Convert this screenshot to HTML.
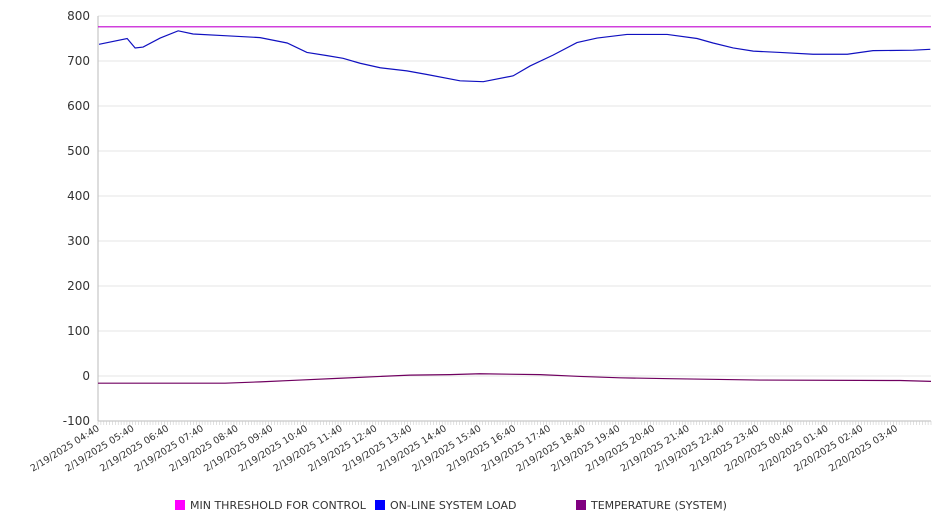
<!DOCTYPE html>
<html><head><meta charset="utf-8"><style>
body{margin:0;background:#fff;font-family:"Liberation Sans","DejaVu Sans",sans-serif}
svg text{font-family:"DejaVu Sans","Liberation Sans",sans-serif;fill:#333}
</style></head><body>
<svg id="chart" width="946" height="526" xmlns="http://www.w3.org/2000/svg"></svg>
<script>
const yTicks=[-100,0,100,200,300,400,500,600,700,800];
const xTickLabels=["2/19/2025 04:40","2/19/2025 05:40","2/19/2025 06:40","2/19/2025 07:40","2/19/2025 08:40","2/19/2025 09:40","2/19/2025 10:40","2/19/2025 11:40","2/19/2025 12:40","2/19/2025 13:40","2/19/2025 14:40","2/19/2025 15:40","2/19/2025 16:40","2/19/2025 17:40","2/19/2025 18:40","2/19/2025 19:40","2/19/2025 20:40","2/19/2025 21:40","2/19/2025 22:40","2/19/2025 23:40","2/20/2025 00:40","2/20/2025 01:40","2/20/2025 02:40","2/20/2025 03:40"];
const thresholdValue=776;
const loadHours=[0.03,0.84,1.07,1.3,1.79,2.31,2.74,3.72,4.67,5.45,6.02,6.6,7.06,7.55,8.13,8.9,9.48,10.43,11.1,11.96,12.45,13.11,13.8,14.38,15.24,16.4,17.26,17.72,18.3,18.88,19.65,20.6,21.59,22.33,23.49,23.98];
const loadValues=[737,750,729,731,751,767,760,756,752,740,719,712,706,695,685,678,670,656,654,667,689,713,741,751,759,759,750,740,729,722,719,715,715,723,724,726];
const tempHours=[0,3.66,4.67,5.82,6.97,8.13,8.99,10.14,11.0,12.74,13.89,15.04,16.48,19.08,23.11,24];
const tempValues=[-16,-16,-13,-9,-5,-1,2,3,5,3,-1,-4,-6,-9,-10,-12];
const X0=98,X1=931,Y0=421,Y1=16,HMAX=24;
const xs=h=>X0+(X1-X0)*h/HMAX;
const ys=v=>Y0-(Y0-Y1)*(v+100)/900;
const NS="http://www.w3.org/2000/svg",svg=document.getElementById('chart');
function mk(t,a,p){const e=document.createElementNS(NS,t);for(const k in a)e.setAttribute(k,a[k]);(p||svg).appendChild(e);return e;}
yTicks.forEach(v=>{
 const g=mk('line',{x1:X0,x2:X1,y1:ys(v),y2:ys(v),stroke:'#e6e6e6','stroke-width':1});
 
 
 const t=mk('text',{x:90,y:ys(v)+4,'text-anchor':'end','font-size':12});
 t.textContent=v;
 
 
});
const ax=mk('line',{x1:X0,x2:X0,y1:Y1,y2:Y0,stroke:'#bbb'});


const bx=mk('line',{x1:X0,x2:X1,y1:Y0,y2:Y0,stroke:'#bbb'});


for(let i=0;i<=288;i++){const x=xs(i/12);const tk=mk('line',{x1:x,x2:x,y1:Y0,y2:Y0+4,stroke:'#ccc','stroke-width':0.6});
 
 }
xTickLabels.forEach((l,i)=>{const x=xs(i)+2;
 const t=mk('text',{x:x,y:Y0+9,'text-anchor':'end','font-size':9.5,transform:`rotate(-32 ${x} ${Y0+9})`});
 t.textContent=l;
 
 });
const th=mk('line',{x1:X0,x2:X1,y1:ys(thresholdValue),y2:ys(thresholdValue),stroke:'#c000d0','stroke-width':1.2});


const lp=mk('polyline',{points:loadHours.map((h,i)=>xs(h)+','+ys(loadValues[i])).join(' '),fill:'none',stroke:'#1010c0','stroke-width':1.2});


const tp=mk('polyline',{points:tempHours.map((h,i)=>xs(h)+','+ys(tempValues[i])).join(' '),fill:'none',stroke:'#700060','stroke-width':1.2});


const leg=[["MIN THRESHOLD FOR CONTROL","#ff00ff",175],["ON-LINE SYSTEM LOAD","#0000ff",375],["TEMPERATURE (SYSTEM)","#800080",576]];
leg.forEach(([n,c,x])=>{const g=mk('g',{});
 
 
 mk('rect',{x:x,y:500,width:10,height:10,fill:c},g);
 const t=mk('text',{x:x+15,y:509,'font-size':11},g);t.textContent=n;});
</script>
</body></html>
